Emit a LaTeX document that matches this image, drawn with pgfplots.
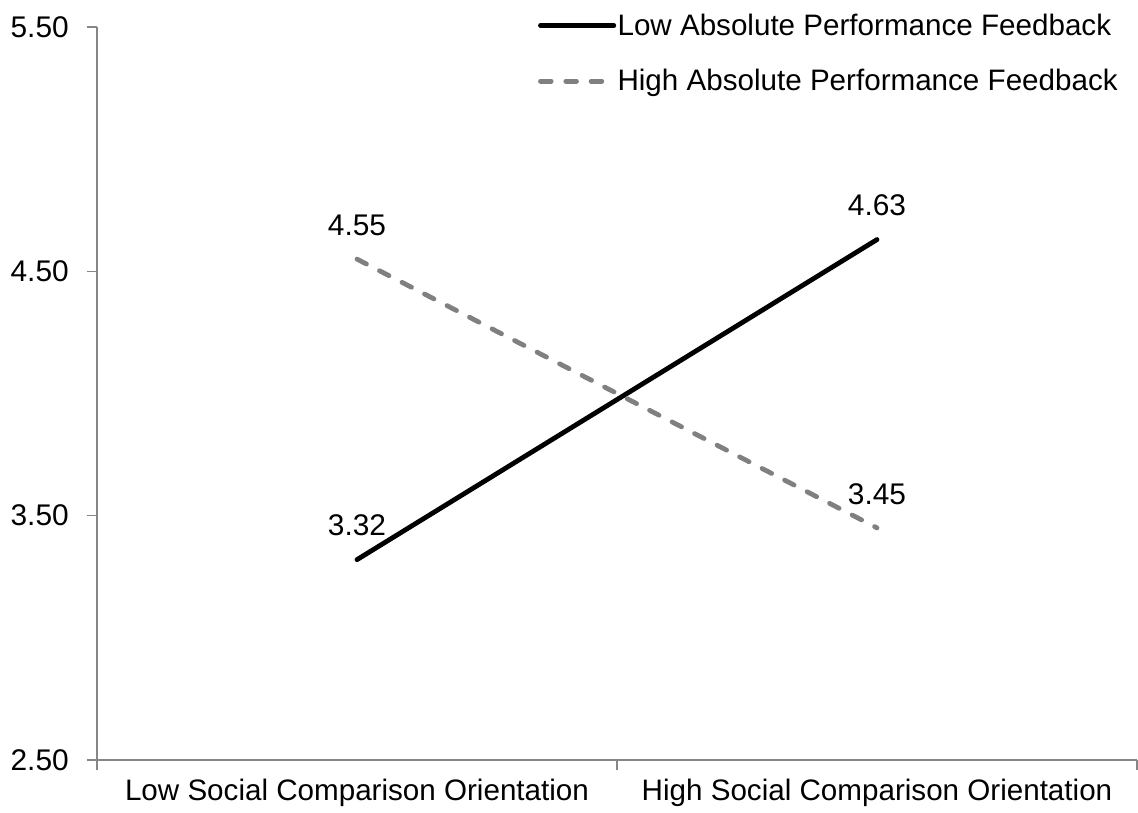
\documentclass[border=0pt]{standalone}
\usepackage{fontspec}
\setmainfont{Liberation Sans}
\usepackage{pgfplots}
\pgfplotsset{compat=1.18}

\definecolor{axisgray}{HTML}{868686}
\definecolor{dashgray}{HTML}{808080}

\begin{document}
\begin{tikzpicture}
\begin{axis}[
    scale only axis,
    width=780pt, height=549.75pt,
    xmin=0, xmax=2,
    ymin=2.5, ymax=5.5,
    axis lines=left,
    axis line style={-, axisgray, line width=1.1pt},
    tick style={axisgray, line width=1.1pt},
    major tick length=7.5pt,
    tick align=outside,
    /pgf/number format/assume math mode=true,
    xtick={0,1,2},
    x tick label as interval,
    xticklabels={Low Social Comparison Orientation, High Social Comparison Orientation},
    ytick={2.5,3.5,4.5,5.5},
    yticklabel={\pgfmathprintnumber[fixed, fixed zerofill, precision=2]{\tick}},
    x tick label style={font=\fontsize{22.2}{26}\selectfont, text=black, yshift=-3pt},
    y tick label style={font=\fontsize{22.4}{26}\selectfont, text=black, anchor=east, inner sep=0pt, xshift=-13.5pt},
    clip=false,
    nodes near coords,
    every node near coord/.append style={font=\fontsize{22.4}{26}\selectfont, black, anchor=south, yshift=12.5pt},
    legend style={draw=none, fill=none, at={(0.983,1.020)}, anchor=north east,
        inner sep=0pt, row sep=22pt,
        font=\fontsize{22.2}{26}\selectfont,
        nodes={inner sep=1pt, anchor=west}},
    legend cell align=left,
    legend image code/.code={\draw[#1] (0pt,0pt) -- (55pt,0pt);},
]
\addplot[black, line width=3.6pt, line cap=round] coordinates {(0.5,3.32) (1.5,4.63)};
\addlegendentry{Low Absolute Performance Feedback}
\addplot[dashgray, line width=3.6pt, line cap=round, dash pattern=on 8pt off 11pt] coordinates {(0.5,4.55) (1.5,3.45)};
\addlegendentry{High Absolute Performance Feedback}
\coordinate (bl) at (rel axis cs:0,0);
\coordinate (tr) at (rel axis cs:1,1);
\end{axis}
\pgfresetboundingbox
\path ([xshift=-72.75pt, yshift=-39.75pt]bl) rectangle ([xshift=0.75pt, yshift=20.25pt]tr);
\end{tikzpicture}
\end{document}
